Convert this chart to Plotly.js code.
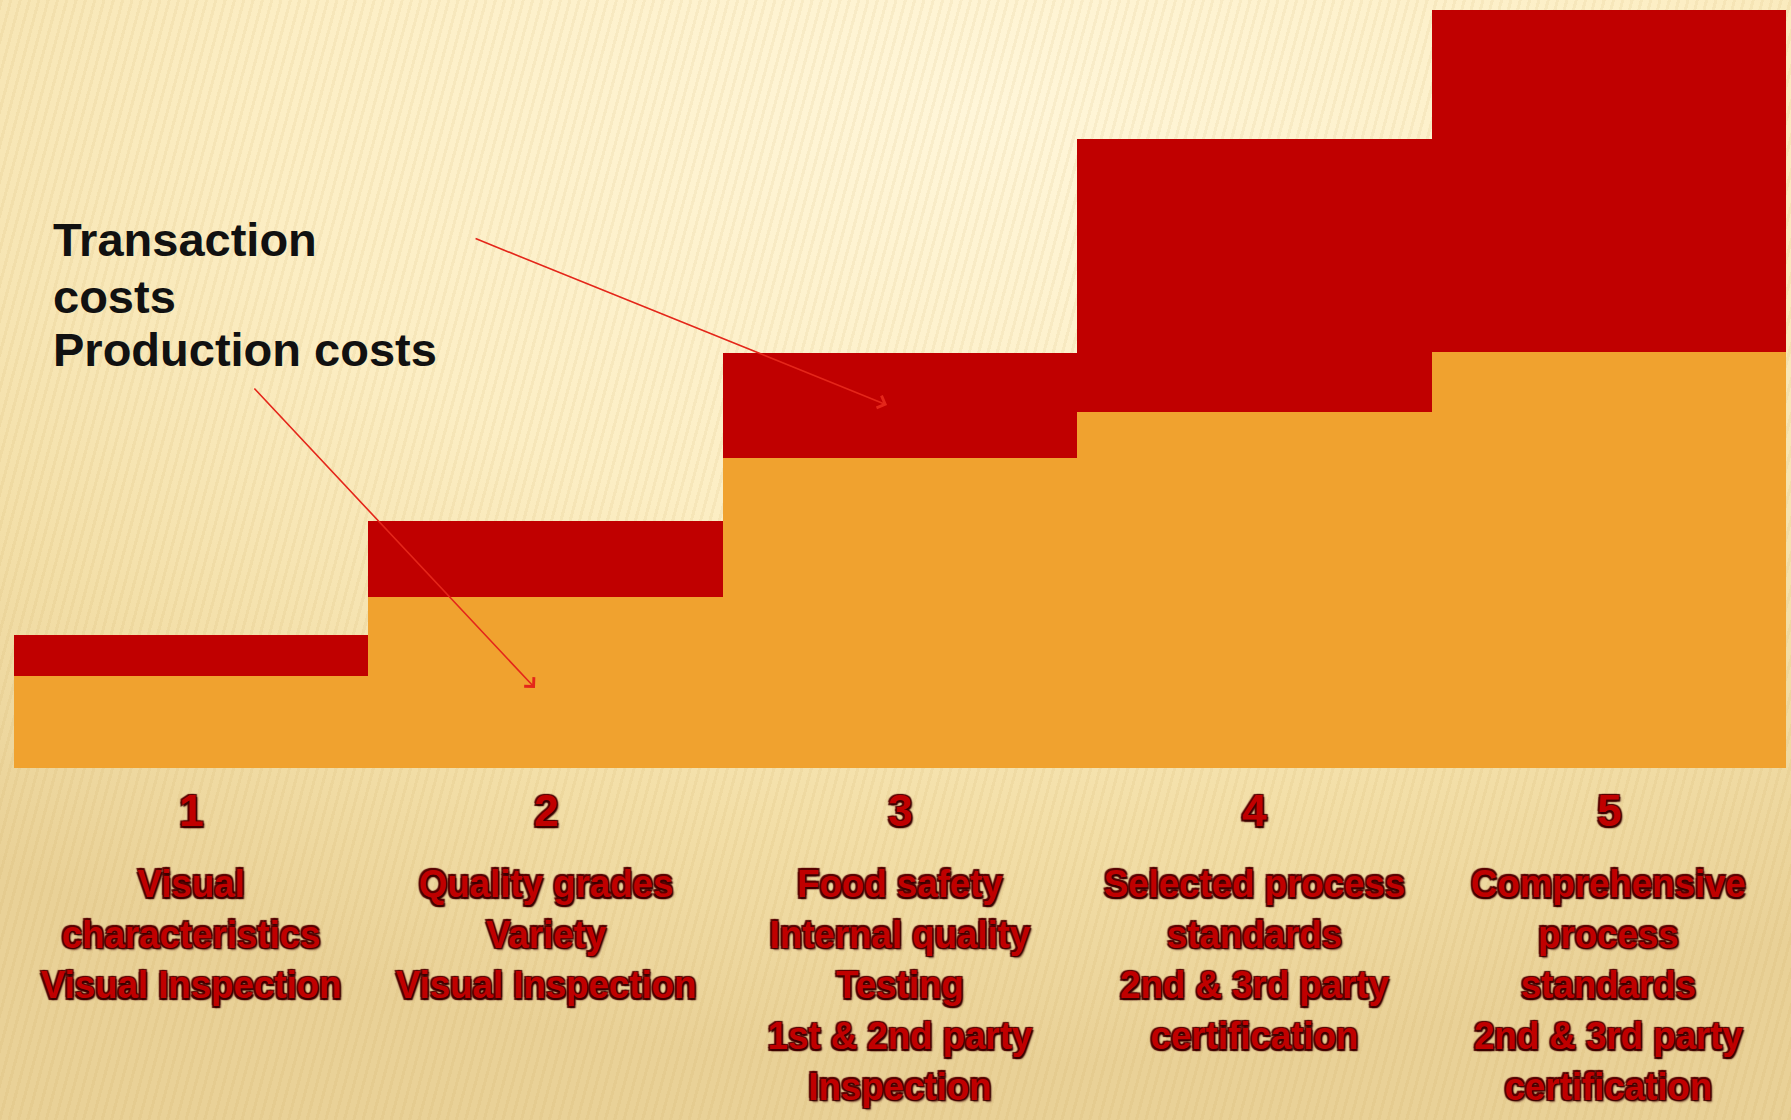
<!DOCTYPE html>
<html>
<head>
<meta charset="utf-8">
<script src="https://cdn.plot.ly/plotly-3.0.1.min.js"></script>
<style>
  html, body { margin: 0; padding: 0; }
  body {
    width: 1791px; height: 1120px; overflow: hidden;
    background:
      repeating-linear-gradient(105deg, rgba(190,150,70,0.09) 0px, rgba(190,150,70,0.09) 3px, rgba(255,255,255,0) 3px, rgba(255,255,255,0) 9px),
      radial-gradient(ellipse 90% 85% at 55% 10%, #FFF6D9 0%, #FCEEC4 45%, #F3DFA8 75%, #E9D197 100%);
  }
  #chart { width: 1791px; height: 1120px; }
</style>
</head>
<body>
<div id="chart"></div>
<script>
// ---- data ----
const categories = ['1', '2', '3', '4', '5'];
const productionCosts = [12.1, 22.6, 40.9, 47.0, 54.9];
const transactionCosts = [5.5, 10.0, 13.9, 36.0, 45.1];
const levelDescriptions = [
  ['Visual', 'characteristics', 'Visual Inspection'],
  ['Quality grades', 'Variety', 'Visual Inspection'],
  ['Food safety', 'Internal quality', 'Testing', '1st & 2nd party', 'Inspection'],
  ['Selected process', 'standards', '2nd & 3rd party', 'certification'],
  ['Comprehensive', 'process', 'standards', '2nd & 3rd party', 'certification']
];
const labelLines = ['Transaction', 'costs', 'Production costs'];

// ---- style ----
const RED = '#C00000';
const ORANGE = '#F0A22F';
const ARROW = '#E4261A';
const labelShadow = '1.5px 1.5px 1px #3a0000, -1.5px -1.5px 1px #5a0000, 1.5px -1.5px 1px #4a0000, -1.5px 1.5px 1px #4a0000, 2px 2px 2px rgba(60,0,0,0.6)';

const traces = [
  { type: 'bar', name: 'Production costs', x: categories, y: productionCosts,
    marker: { color: ORANGE, line: { width: 0 } }, hoverinfo: 'skip' },
  { type: 'bar', name: 'Transaction costs', x: categories, y: transactionCosts,
    marker: { color: RED, line: { width: 0 } }, hoverinfo: 'skip' }
];

const annotations = [];
// legend-like labels
const labelY = [0.6966, 0.6214, 0.5515];
labelLines.forEach((t, i) => annotations.push({
  text: t, xref: 'paper', yref: 'paper', x: 0.0209, y: labelY[i],
  xanchor: 'left', yanchor: 'middle', showarrow: false,
  font: { family: 'Liberation Sans, Arial, sans-serif', size: 47, color: '#111111', weight: 'bold' }
}));
// arrows
annotations.push({
  text: '', xref: 'paper', yref: 'paper', x: 0.4927, y: 0.4789,
  ax: -413, ay: -167, showarrow: true, arrowhead: 4, arrowsize: 1.6, arrowwidth: 1.6, arrowcolor: ARROW
});
annotations.push({
  text: '', xref: 'paper', yref: 'paper', x: 0.2940, y: 0.1055,
  ax: -282, ay: -301, showarrow: true, arrowhead: 4, arrowsize: 1.6, arrowwidth: 1.6, arrowcolor: ARROW
});
// level numbers (x = category index on the category axis)
categories.forEach((c, i) => annotations.push({
  text: c, xref: 'x', yref: 'paper', x: i, y: -0.0560,
  xanchor: 'center', yanchor: 'middle', showarrow: false,
  font: { family: 'Liberation Sans, Arial, sans-serif', size: 44, color: RED, weight: 'bold', shadow: labelShadow }
}));
// level descriptions
categories.forEach((c, i) => annotations.push({
  text: levelDescriptions[i].join('<br>'), xref: 'x', yref: 'paper', x: i, y: -0.1214,
  xanchor: 'center', yanchor: 'top', align: 'center', showarrow: false,
  font: { family: 'Liberation Sans, Arial, sans-serif', size: 39, color: RED, weight: 'bold', shadow: labelShadow }
}));

const layout = {
  width: 1791, height: 1120,
  margin: { l: 14, r: 5, t: 10, b: 352, pad: 0 },
  paper_bgcolor: 'rgba(0,0,0,0)',
  plot_bgcolor: 'rgba(0,0,0,0)',
  barmode: 'stack', bargap: 0,
  showlegend: false,
  xaxis: { type: 'category', range: [-0.5, 4.5], showticklabels: false, showgrid: false,
           zeroline: false, showline: false, ticks: '', fixedrange: true },
  yaxis: { range: [0, 100], showticklabels: false, showgrid: false, zeroline: false,
           showline: false, ticks: '', fixedrange: true },
  annotations: annotations
};

Plotly.newPlot('chart', traces, layout, { displayModeBar: false, staticPlot: true }).then((gd) => {
  gd.querySelectorAll('g.annotation').forEach((g) => {
    const idx = +g.getAttribute('data-index');
    if (idx >= 10) {
      const t = g.querySelector('text.annotation-text');
      if (t) {
        t.style.transformBox = 'fill-box';
        t.style.transformOrigin = 'center';
        t.style.transform = 'scaleX(0.94)';
      }
    }
  });
});
</script>
</body>
</html>
